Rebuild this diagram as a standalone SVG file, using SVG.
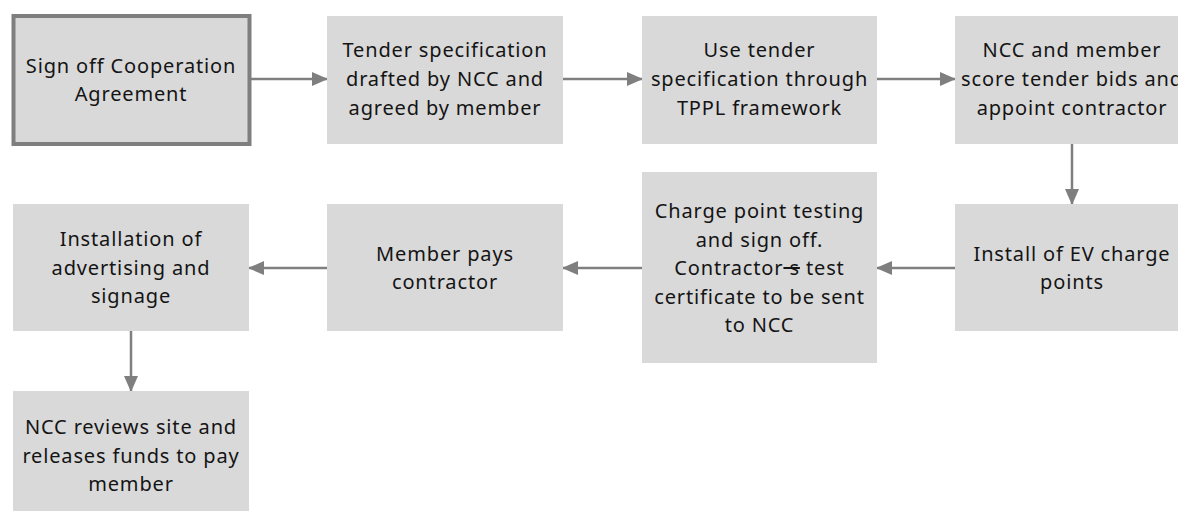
<svg xmlns="http://www.w3.org/2000/svg" width="1178" height="511" viewBox="0 0 1178 511">
<defs>
<style>
.box{fill:#d9d9d9;}
.thick{fill:#d9d9d9;stroke:#7f7f7f;stroke-width:4;}
.t{font-family:"Noto Sans","Open Sans","Liberation Sans",sans-serif;font-size:20px;letter-spacing:0.85px;fill:#141414;text-anchor:middle;}
.c{stroke:#7f7f7f;stroke-width:2.5;fill:none;marker-end:url(#ah);}
</style>
<marker id="ah" markerWidth="16" markerHeight="14" refX="15" refY="7" orient="auto" markerUnits="userSpaceOnUse" viewBox="0 0 16 14">
<path d="M0,0 L16,7 L0,14 z" fill="#7f7f7f"/>
</marker>
</defs>
<rect width="1178" height="511" fill="#ffffff"/>
<g id="connectors">
<line class="c" x1="251" y1="79" x2="327" y2="79"/>
<line class="c" x1="563" y1="79" x2="642" y2="79"/>
<line class="c" x1="877" y1="79" x2="955" y2="79"/>
<line class="c" x1="1072" y1="144" x2="1072" y2="204"/>
<line class="c" x1="955" y1="268" x2="877" y2="268"/>
<line class="c" x1="642" y1="268" x2="563" y2="268"/>
<line class="c" x1="327" y1="268" x2="249" y2="268"/>
<line class="c" x1="131" y1="331" x2="131" y2="391"/>
</g>
<g id="n1">
<rect class="thick" x="13.5" y="16" width="236" height="128"/>
<text class="t" x="131" y="73">Sign off Cooperation</text>
<text class="t" x="131" y="101">Agreement</text>
</g>
<g id="n2">
<rect class="box" x="327" y="16" width="236" height="128"/>
<text class="t" x="445" y="57">Tender specification</text>
<text class="t" x="445" y="86">drafted by NCC and</text>
<text class="t" x="445" y="115">agreed by member</text>
</g>
<g id="n3">
<rect class="box" x="642" y="16" width="235" height="128"/>
<text class="t" x="759.5" y="57">Use tender</text>
<text class="t" x="759.5" y="86">specification through</text>
<text class="t" x="759.5" y="115">TPPL framework</text>
</g>
<g id="n4">
<rect class="box" x="955" y="16" width="235" height="128"/>
<text class="t" x="1072" y="57">NCC and member</text>
<text class="t" x="1072" y="86">score tender bids and</text>
<text class="t" x="1072" y="115">appoint contractor</text>
</g>
<g id="n5">
<rect class="box" x="955" y="204" width="235" height="127"/>
<text class="t" x="1072" y="261">Install of EV charge</text>
<text class="t" x="1072" y="289">points</text>
</g>
<g id="n6">
<rect class="box" x="642" y="172" width="235" height="191"/>
<text class="t" x="759.5" y="218">Charge point testing</text>
<text class="t" x="759.5" y="247">and sign off.</text>
<text class="t" x="759.5" y="275">Contractor<tspan text-decoration="line-through"> s</tspan> test</text>
<text class="t" x="759.5" y="304">certificate to be sent</text>
<text class="t" x="759.5" y="332">to NCC</text>
</g>
<g id="n7">
<rect class="box" x="327" y="204" width="236" height="127"/>
<text class="t" x="445" y="261">Member pays</text>
<text class="t" x="445" y="289">contractor</text>
</g>
<g id="n8">
<rect class="box" x="13" y="204" width="236" height="127"/>
<text class="t" x="131" y="246">Installation of</text>
<text class="t" x="131" y="275">advertising and</text>
<text class="t" x="131" y="303">signage</text>
</g>
<g id="n9">
<rect class="box" x="13" y="391" width="236" height="125"/>
<text class="t" x="131" y="434">NCC reviews site and</text>
<text class="t" x="131" y="463">releases funds to pay</text>
<text class="t" x="131" y="491">member</text>
</g>
</svg>
